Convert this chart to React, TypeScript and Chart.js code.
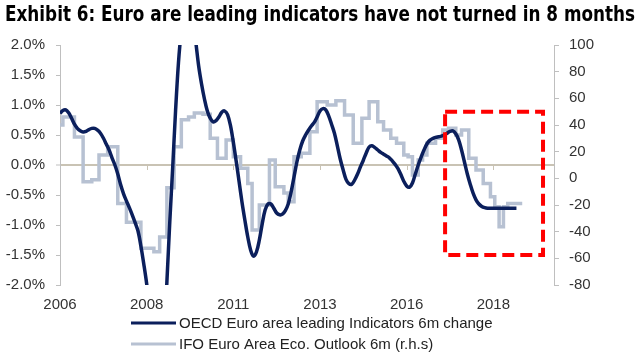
import React, { useEffect, useRef } from "react";
import { Chart, registerables } from "chart.js";

Chart.register(...registerables);

const TITLE = "Exhibit 6: Euro are leading indicators have not turned in 8 months";
const START_YEAR = 2006;
const X_MAX_MONTH = 171;
const X_TICK_STEP = 30;

const SERIES_LABELS = [
  "OECD Euro area leading Indicators 6m change",
  "IFO Euro Area Eco. Outlook 6m (r.h.s)",
];

// OECD euro area leading indicator, 6m change (%), monthly from Jan 2006
const oecdValues = [
  0.86, 0.91, 0.92, 0.87, 0.78, 0.68, 0.61, 0.57, 0.55, 0.56, 0.59, 0.61,
  0.61, 0.58, 0.53, 0.45, 0.35, 0.25, 0.12, 0.0, -0.15, -0.33, -0.48, -0.6,
  -0.71, -0.83, -0.96, -1.1, -1.35, -1.65, -1.98, -2.4, -2.9, -3.3, -3.5, -3.4,
  -2.85, -1.95, -0.95, -0.05, 0.9, 1.7, 2.25, 2.6, 2.75, 2.65, 2.4, 2.05,
  1.65, 1.35, 1.1, 0.9, 0.78, 0.72, 0.74, 0.8, 0.88, 0.9, 0.84, 0.66,
  0.38, 0.06, -0.28, -0.62, -0.92, -1.2, -1.42, -1.52, -1.45, -1.25, -0.98, -0.75,
  -0.65, -0.65, -0.72, -0.8, -0.83, -0.82, -0.76, -0.65, -0.45, -0.2, 0.05, 0.25,
  0.4, 0.5, 0.58, 0.65, 0.71, 0.8, 0.9, 0.94, 0.92, 0.82, 0.68, 0.53,
  0.32, 0.1, -0.08, -0.24, -0.31, -0.32, -0.25, -0.15, -0.03, 0.08, 0.2, 0.3,
  0.32, 0.29, 0.25, 0.21, 0.18, 0.15, 0.12, 0.07, 0.01, -0.06, -0.16, -0.27,
  -0.35, -0.37, -0.3, -0.15, 0.0, 0.13, 0.25, 0.35, 0.41, 0.44, 0.46, 0.47,
  0.48, 0.5, 0.53, 0.56, 0.57, 0.52, 0.42, 0.25, 0.05, -0.15, -0.32, -0.47,
  -0.58, -0.65, -0.69, -0.71, -0.72, -0.72, -0.72, -0.72, -0.72, -0.72, -0.72, -0.72,
  -0.72, -0.72, -0.72,
];

// IFO euro area economic outlook 6m (rhs): month of each reading (months since Jan 2006) and value
const ifoMonths = [
  0, 1, 5, 8, 11, 13.5, 16.5, 20, 23, 28, 32.5, 34.5, 37, 39.5, 42, 44.5,
  46.5, 49.5, 52, 54.5, 57.5, 60, 62.5, 65, 66.5, 69, 72.5, 74.5, 77.5, 79,
  81, 83.5, 86.5, 89, 92.5, 95.5, 98.5, 101.5, 104.5, 107, 110, 112, 114.5,
  116.5, 119, 120.5, 122, 124, 125.5, 127, 130, 132.5, 134.5, 137, 139, 141.5,
  144, 146.5, 149, 150.5, 152, 153.5, 155, 160,
];
const ifoValues = [
  40, 46, 31, -2.5, -1, 17.5, 23.7, -18.8, -33, -52.5, -55, -44, -7, 23.7, 44, 46,
  49, 48, 30, 15, 28.7, 16.2, 7.5, -3.8, -38.8, -20, 13.7, -6.3, -11, -17.5,
  16.2, 18.8, 35, 57.5, 55, 58.2, 47.5, 26.3, 45, 57.5, 42.5, 36.2, 30,
  26.3, 17.5, 16.2, 2.5, 13.7, 17.5, 26.3, 30, 36.2, 37.5, 32.5, 36.2, 15,
  6.2, -3.8, -13.8, -21.3, -36.3, -21.3, -18.8, -18.8,
];

// highlighted period (months since Jan 2006) and its range on the right axis
const highlightMonths = [133.3, 167.2];
const highlightRhs = [50, -57.5];

const NAVY = "#0b1f5c";
const GREY_BLUE = "#b7c1d2";
const AXIS_GREY = "#bfbfbf";
const ZERO_LINE = "#c9c3b4";
const TEXT = "#333333";
const FONT = "'Liberation Sans', Arial, sans-serif";

const decorPlugin = {
  id: "decor",
  beforeDraw(chart: any) {
    const { ctx } = chart;
    ctx.save();
    ctx.fillStyle = "#ffffff";
    ctx.fillRect(0, 0, chart.width, chart.height);
    ctx.restore();
  },
  afterDatasetsDraw(chart: any) {
    const { ctx, scales } = chart;
    const x = scales.x;
    const y = scales.y;
    const y2 = scales.y2;
    // small tick marks hanging from the zero line
    const y0 = y.getPixelForValue(0);
    ctx.save();
    ctx.strokeStyle = ZERO_LINE;
    ctx.lineWidth = 1;
    x.ticks.forEach((t: any) => {
      if (t.value === 0) return;
      const px = Math.round(x.getPixelForValue(t.value)) + 0.5;
      ctx.beginPath();
      ctx.moveTo(px, y0);
      ctx.lineTo(px, y0 + 5);
      ctx.stroke();
    });
    // red dashed highlight box
    const l = x.getPixelForValue(highlightMonths[0]);
    const r = x.getPixelForValue(highlightMonths[1]);
    const t = y2.getPixelForValue(highlightRhs[0]);
    const b = y2.getPixelForValue(highlightRhs[1]);
    ctx.strokeStyle = "#ff0000";
    ctx.lineWidth = 4;
    ctx.setLineDash([12, 6]);
    ctx.strokeRect(l, t, r - l, b - t);
    ctx.restore();
  },
  afterDraw(chart: any) {
    const { ctx } = chart;
    ctx.save();
    // title
    ctx.fillStyle = "#000000";
    ctx.font = "bold 21px 'Liberation Sans Narrow', 'Arial Narrow', 'DejaVu Sans Condensed', sans-serif";
    ctx.textBaseline = "alphabetic";
    ctx.textAlign = "left";
    ctx.fillText(TITLE, 5, 21, 630);
    // legend
    const ds = chart.data.datasets;
    ctx.font = `15px ${FONT}`;
    ctx.textBaseline = "middle";
    ds.forEach((d: any, i: number) => {
      const cy = 323 + i * 21;
      ctx.strokeStyle = d.borderColor;
      ctx.lineWidth = 3;
      ctx.setLineDash([]);
      ctx.beginPath();
      ctx.moveTo(131, cy);
      ctx.lineTo(176, cy);
      ctx.stroke();
      ctx.fillStyle = "#222222";
      ctx.fillText(d.label, 179, cy + 1);
    });
    ctx.restore();
  },
};

export default function App() {
  const ref = useRef<HTMLCanvasElement | null>(null);
  useEffect(() => {
    if (!ref.current) return;
    const chart = new Chart(ref.current, {
      type: "line",
      data: {
        datasets: [
          {
            label: SERIES_LABELS[0],
            data: oecdValues.map((v, i) => ({ x: i, y: v })),
            borderColor: NAVY,
            borderWidth: 3.5,
            pointRadius: 0,
            tension: 0.35,
            yAxisID: "y",
            fill: false,
          },
          {
            label: SERIES_LABELS[1],
            data: ifoValues.map((v, i) => ({ x: ifoMonths[i], y: v })),
            borderColor: GREY_BLUE,
            borderWidth: 3.5,
            pointRadius: 0,
            stepped: true,
            yAxisID: "y2",
            fill: false,
          },
        ],
      },
      options: {
        responsive: false,
        animation: false,
        events: [],
        layout: { padding: { top: 45, left: 0, right: 0, bottom: 0 } },
        plugins: {
          legend: { display: false },
          title: { display: false },
          tooltip: { enabled: false },
        },
        scales: {
          x: {
            type: "linear",
            min: 0,
            max: X_MAX_MONTH,
            grid: { display: false, drawTicks: false },
            border: { display: false },
            ticks: {
              stepSize: X_TICK_STEP,
              includeBounds: false,
              autoSkip: false,
              maxRotation: 0,
              padding: 11,
              color: TEXT,
              font: { family: FONT, size: 15 },
              callback: (v: any) => String(START_YEAR + Math.floor(Number(v) / 12)),
            },
            afterFit: (s: any) => {
              s.height = 75;
            },
          },
          y: {
            position: "left",
            min: -2,
            max: 2,
            grid: {
              drawOnChartArea: true,
              color: (c: any) => (c.tick && c.tick.value === 0 ? ZERO_LINE : "rgba(0,0,0,0)"),
              lineWidth: (c: any) => (c.tick && c.tick.value === 0 ? 2 : 1),
              tickColor: AXIS_GREY,
              tickWidth: 1,
              tickLength: 4,
            },
            border: { color: AXIS_GREY, width: 1 },
            ticks: {
              stepSize: 0.5,
              padding: 11,
              color: TEXT,
              font: { family: FONT, size: 15 },
              callback: (v: any) => Number(v).toFixed(1) + "%",
            },
            afterFit: (s: any) => {
              s.width = 60;
            },
          },
          y2: {
            position: "right",
            min: -80,
            max: 100,
            grid: {
              drawOnChartArea: false,
              tickColor: AXIS_GREY,
              tickLength: 5,
            },
            border: { color: AXIS_GREY, width: 1 },
            ticks: {
              stepSize: 20,
              padding: 10,
              color: TEXT,
              font: { family: FONT, size: 15 },
            },
            afterFit: (s: any) => {
              s.width = 86;
            },
          },
        },
      },
      plugins: [decorPlugin],
    } as any);
    return () => chart.destroy();
  }, []);
  return (
    <div style={{ position: "fixed", left: 0, top: 0, width: 640, height: 360, background: "#fff" }}>
      <canvas ref={ref} width={640} height={360} style={{ width: 640, height: 360, display: "block" }} />
    </div>
  );
}
